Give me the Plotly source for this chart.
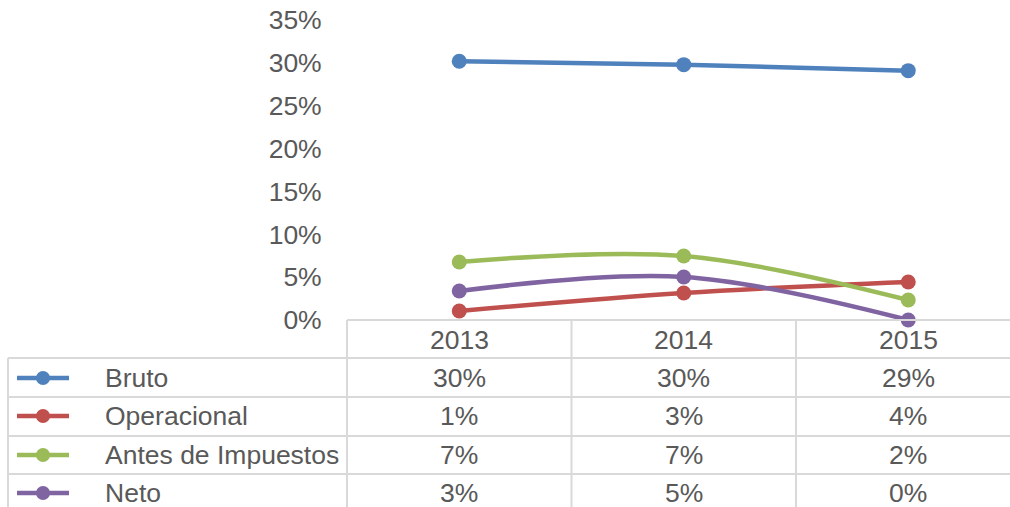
import plotly.graph_objects as go

years = ["2013", "2014", "2015"]
series_names = ["Bruto", "Operacional", "Antes de Impuestos", "Neto"]
bruto = [0.302, 0.298, 0.291]
operacional = [0.0105, 0.0315, 0.0443]
antes = [0.0677, 0.0747, 0.0233]
neto = [0.0338, 0.0502, 0.0]
colors = ["#4F81BD", "#C0504D", "#9BBB59", "#8064A2"]
y_ticks = [0, 0.05, 0.10, 0.15, 0.20, 0.25, 0.30, 0.35]

W, H = 1010, 507
PL, PR, PT, PB = 347, 1010, 20, 320
CAT_W = 224.5
FONT = "Liberation Sans, Arial, sans-serif"
FS = 26.5
TXT = "#595959"
GRID = "#D9D9D9"

def px(x):
    return (x - PL) / (PR - PL)

def py(y):
    return (PB - y) / (PB - PT)

all_series = [bruto, operacional, antes, neto]
xs = list(range(len(years)))

fig = go.Figure()
for name, vals, c in zip(series_names, all_series, colors):
    fig.add_trace(go.Scatter(
        x=xs, y=vals, name=name, mode="lines+markers",
        line=dict(color=c, width=4.5, shape="spline", smoothing=1),
        marker=dict(color=c, size=15),
        cliponaxis=False, showlegend=False, hoverinfo="skip",
    ))

shapes = []
ann = []
line_style = dict(color=GRID, width=2)
shapes.append(dict(type="line", xref="paper", yref="paper", x0=px(PL), x1=px(1030), y0=py(320), y1=py(320), line=line_style))
row_lines = [358, 397, 436, 474, 512]
for yl in row_lines:
    shapes.append(dict(type="line", xref="paper", yref="paper", x0=px(8), x1=px(1030), y0=py(yl), y1=py(yl), line=line_style))
shapes.append(dict(type="line", xref="paper", yref="paper", x0=px(8), x1=px(8), y0=py(358), y1=py(520), line=line_style))
for i in range(len(years) + 1):
    xv = PL + i * CAT_W
    shapes.append(dict(type="line", xref="paper", yref="paper", x0=px(xv), x1=px(xv), y0=py(320), y1=py(520), line=line_style))

col_centers = [PL + CAT_W * (i + 0.5) for i in range(len(years))]
for yr, cx in zip(years, col_centers):
    ann.append(dict(text=yr, xref="paper", yref="paper", x=px(cx), y=py(340), xanchor="center", yanchor="middle",
                    showarrow=False, font=dict(family=FONT, size=FS, color=TXT)))

row_centers = [378, 416, 455, 493]
for name, vals, c, ry in zip(series_names, all_series, colors, row_centers):
    shapes.append(dict(type="line", xref="paper", yref="paper", x0=px(17), x1=px(69), y0=py(ry), y1=py(ry),
                       line=dict(color=c, width=4.5)))
    shapes.append(dict(type="circle", xref="paper", yref="paper", xsizemode="pixel", ysizemode="pixel",
                       xanchor=px(43), yanchor=py(ry), x0=-7, x1=7, y0=-7, y1=7,
                       fillcolor=c, line=dict(color=c, width=0)))
    ann.append(dict(text=name, xref="paper", yref="paper", x=px(103), y=py(ry), xanchor="left", yanchor="middle",
                    showarrow=False, font=dict(family=FONT, size=FS, color=TXT)))
    for v, cx in zip(vals, col_centers):
        ann.append(dict(text=f"{v:.0%}", xref="paper", yref="paper", x=px(cx), y=py(ry), xanchor="center", yanchor="middle",
                        showarrow=False, font=dict(family=FONT, size=FS, color=TXT)))

fig.update_layout(
    width=W, height=H,
    margin=dict(l=PL, r=W - PR, t=PT, b=H - PB, pad=0),
    paper_bgcolor="white", plot_bgcolor="white",
    hovermode=False,
    xaxis=dict(range=[-0.5, -0.5 + (PR - PL) / CAT_W], showgrid=False, zeroline=False, showticklabels=False,
               showline=False, fixedrange=True),
    yaxis=dict(range=[0, 0.3501], tickvals=y_ticks, tickformat=".0%", showgrid=False, zeroline=False,
               showline=False, ticks="outside", ticklen=19, tickcolor="rgba(0,0,0,0)",
               tickfont=dict(family=FONT, size=FS, color=TXT), fixedrange=True),
    shapes=shapes, annotations=ann,
)

fig.write_html(
    "out.html",
    config={"displayModeBar": False, "staticPlot": True},
    post_script="document.body.style.margin='0';document.body.style.overflow='hidden';",
)
